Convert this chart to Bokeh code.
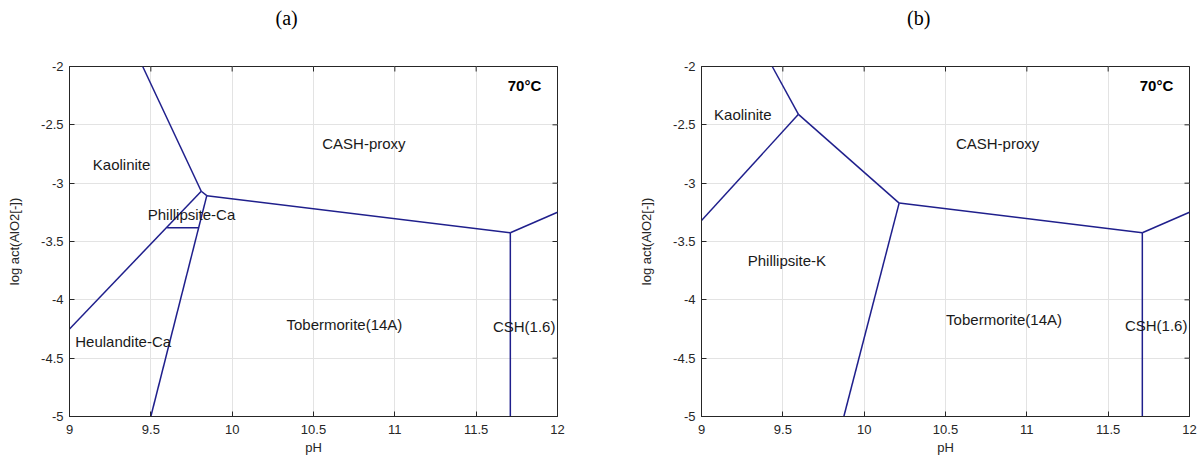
import math
from bokeh.plotting import figure
from bokeh.layouts import row
from bokeh.models import Label, Range1d, FixedTicker, LinearAxis
from bokeh.embed import file_html
from bokeh.resources import INLINE

# ---------------- data ----------------
PH_TICKS = [9, 9.5, 10, 10.5, 11, 11.5, 12]
LOGA_TICKS = [-5, -4.5, -4, -3.5, -3, -2.5, -2]
TEMPERATURE = "70°C"
PANEL_TITLES = ["(a)", "(b)"]

# Panel (a): phase boundary segments (pH, log act(AlO2-))
a_seg_ph = [[9.45, 9.81], [9.81, 9.844], [9.81, 9.0], [9.844, 9.5],
            [9.6, 9.795], [9.844, 11.71], [11.71, 11.71], [11.71, 12.0]]
a_seg_loga = [[-2.0, -3.069], [-3.069, -3.107], [-3.069, -4.25], [-3.107, -5.0],
              [-3.382, -3.382], [-3.107, -3.425], [-3.425, -5.0], [-3.425, -3.249]]
a_names = ["Kaolinite", "CASH-proxy", "Phillipsite-Ca", "Heulandite-Ca",
           "Tobermorite(14A)", "CSH(1.6)"]
a_name_ph = [9.32, 10.81, 9.75, 9.33, 10.69, 11.795]
a_name_loga = [-2.84, -2.66, -3.27, -4.36, -4.21, -4.23]

# Panel (b)
b_seg_ph = [[9.435, 9.596], [9.596, 9.0], [9.596, 10.215], [10.215, 9.875],
            [10.215, 11.71], [11.71, 11.71], [11.71, 12.0]]
b_seg_loga = [[-2.0, -2.41], [-2.41, -3.32], [-2.41, -3.171], [-3.171, -5.0],
              [-3.171, -3.425], [-3.425, -5.0], [-3.425, -3.249]]
b_names = ["Kaolinite", "CASH-proxy", "Phillipsite-K", "Tobermorite(14A)", "CSH(1.6)"]
b_name_ph = [9.254, 10.82, 9.525, 10.86, 11.795]
b_name_loga = [-2.414, -2.663, -3.662, -4.171, -4.222]

# ---------------- style ----------------
FONT = "Liberation Sans"
LINE_COLOR = "#1f1f8c"
AXIS_COLOR = "#262626"
TEXT_COLOR = "#1a1a1a"
GRID_COLOR = "#e3e3e3"
X_MIN, X_MAX = PH_TICKS[0], PH_TICKS[-1]
Y_MIN, Y_MAX = LOGA_TICKS[0], LOGA_TICKS[-1]
TITLE_AT_PH = 10.335   # horizontal position of the panel letter


def fmt(ticks):
    return {t: f"{t:g}" for t in ticks}


def make_panel(title, seg_ph, seg_loga, names, name_ph, name_loga,
               border_left, border_right):
    p = figure(frame_width=488, frame_height=350,
               x_range=Range1d(X_MIN, X_MAX), y_range=Range1d(Y_MIN, Y_MAX),
               output_backend="svg", toolbar_location=None,
               min_border_left=border_left, min_border_right=border_right,
               min_border_top=66, min_border_bottom=40,
               background_fill_color="white", border_fill_color="white")
    p.outline_line_color = AXIS_COLOR
    p.outline_line_width = 1

    xt = FixedTicker(ticks=PH_TICKS)
    yt = FixedTicker(ticks=LOGA_TICKS)

    p.xaxis.ticker = xt
    p.xaxis.major_label_overrides = fmt(PH_TICKS)
    p.xaxis.axis_label = "pH"
    p.yaxis.ticker = yt
    p.yaxis.major_label_overrides = fmt(LOGA_TICKS)
    p.yaxis.axis_label = "log act(AlO2[-])"

    for ax in p.axis:
        ax.axis_line_color = AXIS_COLOR
        ax.major_tick_line_color = AXIS_COLOR
        ax.major_tick_in = 5
        ax.major_tick_out = 0
        ax.minor_tick_line_color = None
        ax.major_label_text_font = FONT
        ax.major_label_text_font_size = "13px"
        ax.major_label_text_color = AXIS_COLOR
        ax.axis_label_text_font = FONT
        ax.axis_label_text_font_size = "13px"
        ax.axis_label_text_font_style = "normal"
        ax.axis_label_text_color = AXIS_COLOR
    p.xaxis.major_label_standoff = 8
    p.xaxis.axis_label_standoff = 3
    p.yaxis.major_label_standoff = 6
    p.yaxis.axis_label_standoff = 16

    # panel letter "(a)" / "(b)" above the frame
    top = LinearAxis(ticker=FixedTicker(ticks=[TITLE_AT_PH]),
                     major_label_overrides={TITLE_AT_PH: title})
    top.axis_line_color = None
    top.major_tick_line_color = None
    top.minor_tick_line_color = None
    top.major_tick_in = 0
    top.major_tick_out = 0
    top.major_label_standoff = 38
    top.major_label_text_font = "Liberation Serif"
    top.major_label_text_font_size = "20px"
    top.major_label_text_color = "black"
    p.add_layout(top, "above")

    p.xgrid.ticker = xt
    p.ygrid.ticker = yt
    p.grid.grid_line_color = GRID_COLOR
    p.grid.grid_line_width = 1

    # inward tick marks on the top and right edges (half of each dash is
    # clipped away by the frame)
    p.scatter(x=PH_TICKS, y=[Y_MAX] * len(PH_TICKS), marker="dash", size=10,
              angle=math.pi / 2, line_color=AXIS_COLOR, line_width=1)
    p.scatter(x=[X_MAX] * len(LOGA_TICKS), y=LOGA_TICKS, marker="dash", size=10,
              line_color=AXIS_COLOR, line_width=1)

    p.multi_line(xs=seg_ph, ys=seg_loga, line_color=LINE_COLOR, line_width=1.5)

    for nm, x, y in zip(names, name_ph, name_loga):
        p.add_layout(Label(x=x, y=y, text=nm,
                           text_align="center", text_baseline="middle",
                           text_font=FONT, text_font_size="15px",
                           text_color=TEXT_COLOR))
    p.add_layout(Label(x=11.90, y=-2.163, text=TEMPERATURE,
                       text_align="right", text_baseline="middle",
                       text_font=FONT, text_font_size="15px",
                       text_font_style="bold", text_color="black"))
    return p


pa = make_panel(PANEL_TITLES[0], a_seg_ph, a_seg_loga, a_names, a_name_ph,
                a_name_loga, 69, 51)
pb = make_panel(PANEL_TITLES[1], b_seg_ph, b_seg_loga, b_names, b_name_ph,
                b_name_loga, 93, 13)

layout = row(pa, pb)
open("out.html", "w").write(file_html(layout, INLINE))
